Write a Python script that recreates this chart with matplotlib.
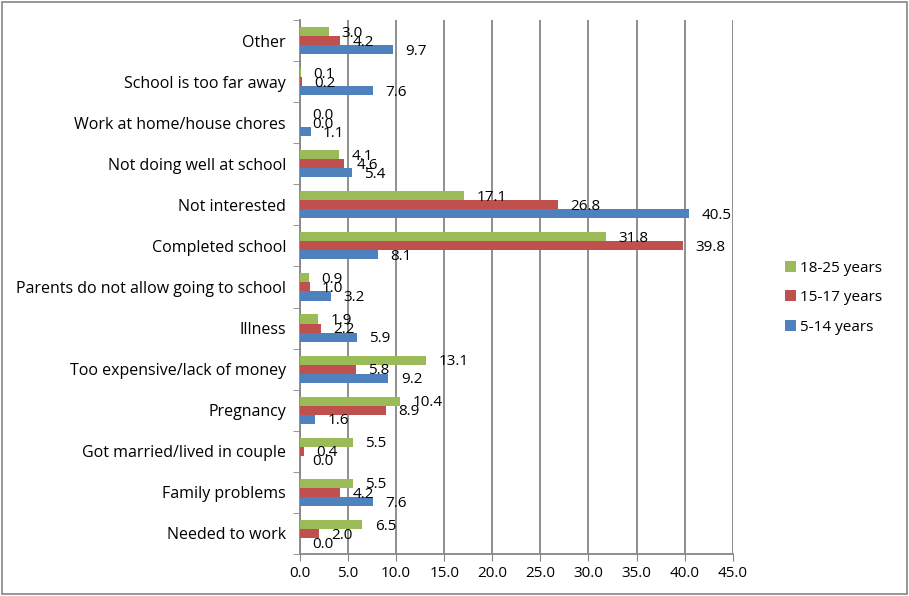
import numpy as np
import matplotlib.pyplot as plt
from matplotlib.patches import Rectangle

plt.rcParams['font.family'] = ['Open Sans', 'DejaVu Sans']

# Categories from bottom to top
categories = [
    "Needed to work",
    "Family problems",
    "Got married/lived in couple",
    "Pregnancy",
    "Too expensive/lack of money",
    "Illness",
    "Parents do not allow going to school",
    "Completed school",
    "Not interested",
    "Not doing well at school",
    "Work at home/house chores",
    "School is too far away",
    "Other",
]

age_18_25 = [6.5, 5.5, 5.5, 10.4, 13.1, 1.9, 0.9, 31.8, 17.1, 4.1, 0.0, 0.1, 3.0]
age_15_17 = [2.0, 4.2, 0.4, 8.9, 5.8, 2.2, 1.0, 39.8, 26.8, 4.6, 0.0, 0.2, 4.2]
age_5_14 = [0.0, 7.6, 0.0, 1.6, 9.2, 5.9, 3.2, 8.1, 40.5, 5.4, 1.1, 7.6, 9.7]

series = [
    ("18-25 years", age_18_25, "#9BBB59", 0.22),
    ("15-17 years", age_15_17, "#C0504D", 0.0),
    ("5-14 years", age_5_14, "#4F81BD", -0.22),
]

fig = plt.figure(figsize=(9.09, 5.96), dpi=100)
ax = fig.add_axes([0.330, 0.0705, 0.476, 0.896])

y = np.arange(len(categories))
h = 0.22

for name, vals, color, off in series:
    ax.barh(y + off, vals, height=h, color=color, label=name, zorder=3)
    for yi, v in zip(y, vals):
        ax.text(v + 1.3, yi + off - 0.04, f"{v:.1f}", va="center", ha="left",
                fontsize=11, color="black", zorder=4)

ax.set_xlim(0, 45)
ax.set_ylim(-0.5, len(categories) - 0.5)
ax.set_xticks(np.arange(0, 45.1, 5))
ax.set_xticklabels([f"{t:.1f}" for t in np.arange(0, 45.1, 5)], fontsize=11)
ax.set_yticks(y)
ax.set_yticklabels(categories, fontsize=11.5)
ax.set_yticks(np.arange(-0.5, len(categories), 1), minor=True)
ax.tick_params(axis="y", which="major", length=0, pad=10)
ax.tick_params(axis="y", which="minor", length=5, color="#868686", direction="out")
ax.tick_params(axis="x", length=5, color="#868686", direction="out", pad=4)

ax.grid(axis="x", color="#868686", linewidth=1.3, zorder=0)
for s in ["top", "right"]:
    ax.spines[s].set_visible(False)
ax.spines["left"].set_color("#868686")
ax.spines["bottom"].set_color("#868686")
ax.spines["left"].set_linewidth(1.3)
ax.spines["bottom"].set_linewidth(1.3)

ax.legend(loc="center left", bbox_to_anchor=(1.09, 0.48), frameon=False,
          fontsize=11, handlelength=0.7, handleheight=0.7, handletextpad=0.25,
          labelspacing=0.95)

fig.patches.append(Rectangle((0.002, 0.004), 0.996, 0.992, transform=fig.transFigure,
                             fill=False, edgecolor="#868686", linewidth=1.2))

fig.savefig("out.png", dpi=100)
